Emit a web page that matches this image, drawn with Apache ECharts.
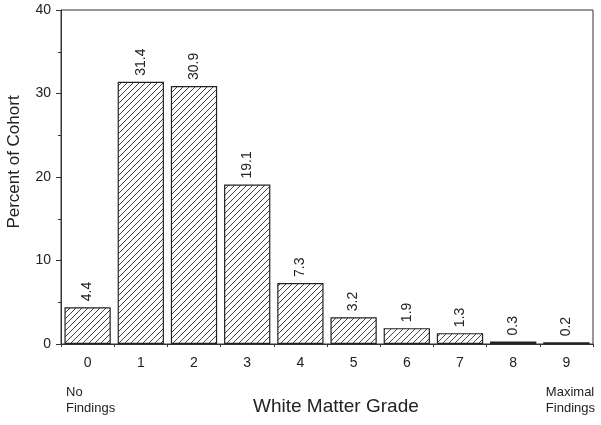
<!DOCTYPE html>
<html>
<head>
<meta charset="utf-8">
<script src="https://cdn.jsdelivr.net/npm/echarts@6/dist/echarts.min.js"></script>
<style>
  html, body { margin: 0; padding: 0; background: #fff; }
  #chart { width: 601px; height: 425px; }
</style>
</head>
<body>
<div id="chart"></div>
<script>
const grades = ['0', '1', '2', '3', '4', '5', '6', '7', '8', '9']
const percents = [4.4, 31.4, 30.9, 19.1, 7.3, 3.2, 1.9, 1.3, 0.3, 0.2]
const yTicks = [0, 10, 20, 30, 40]

// diagonal hatch pattern "/"
function hatch() {
  const s = 6
  const c = document.createElement('canvas')
  c.width = s
  c.height = s
  const ctx = c.getContext('2d')
  ctx.fillStyle = '#fff'
  ctx.fillRect(0, 0, s, s)
  ctx.strokeStyle = '#444'
  ctx.lineWidth = 1
  ctx.beginPath()
  ctx.moveTo(-1, s + 1); ctx.lineTo(s + 1, -1)
  ctx.moveTo(-1, 1); ctx.lineTo(1, -1)
  ctx.moveTo(s - 1, s + 1); ctx.lineTo(s + 1, s - 1)
  ctx.stroke()
  return c
}

const font = 'Liberation Sans, Arial, Helvetica, sans-serif'
const chart = echarts.init(document.getElementById('chart'))

chart.setOption({
  animation: false,
  textStyle: { fontFamily: font, color: '#222' },
  grid: {
    left: 61, right: 8, top: 10, bottom: 81,
    outerBoundsMode: 'none',
    containLabel: false,
    show: true, borderColor: '#333', borderWidth: 1
  },
  xAxis: {
    type: 'category',
    data: grades,
    axisLine: { lineStyle: { color: '#333', width: 1 } },
    axisTick: { show: true, length: 3, interval: 0, lineStyle: { color: '#333' } },
    axisLabel: { fontSize: 14, color: '#222', margin: 12, fontFamily: font }
  },
  yAxis: {
    type: 'value',
    min: yTicks[0],
    max: yTicks[yTicks.length - 1],
    interval: 10,
    axisLine: { show: true, lineStyle: { color: '#333', width: 1 } },
    axisTick: { show: true, length: 5, lineStyle: { color: '#333' } },
    minorTick: { show: true, splitNumber: 2, length: 3, lineStyle: { color: '#333' } },
    splitLine: { show: false },
    axisLabel: { fontSize: 14, color: '#222', margin: 10, fontFamily: font }
  },
  series: [{
    type: 'bar',
    data: percents,
    barCategoryGap: '13%',
    itemStyle: {
      color: { image: hatch(), repeat: 'repeat' },
      borderColor: '#222',
      borderWidth: 1.2
    },
    label: {
      show: true,
      position: 'top',
      rotate: 90,
      align: 'left',
      verticalAlign: 'middle',
      distance: 6,
      fontSize: 14,
      color: '#222',
      fontFamily: font,
      formatter: p => p.value.toFixed(1)
    }
  }],
  graphic: [
    {
      type: 'text', x: 6, y: 162, rotation: Math.PI / 2,
      style: { text: 'Percent of Cohort', font: '17px ' + font, fill: '#222', align: 'center', verticalAlign: 'top' }
    },
    {
      type: 'text', left: 66, top: 384,
      style: { text: 'No\nFindings', font: '13px ' + font, fill: '#222', lineHeight: 16 }
    },
    {
      type: 'text', right: 6, top: 384,
      style: { text: 'Maximal\nFindings', font: '13px ' + font, fill: '#222', lineHeight: 16, align: 'right' }
    },
    {
      type: 'text', left: 253, top: 397,
      style: { text: 'White Matter Grade', font: '19px ' + font, fill: '#222' }
    }
  ]
})
</script>
</body>
</html>
